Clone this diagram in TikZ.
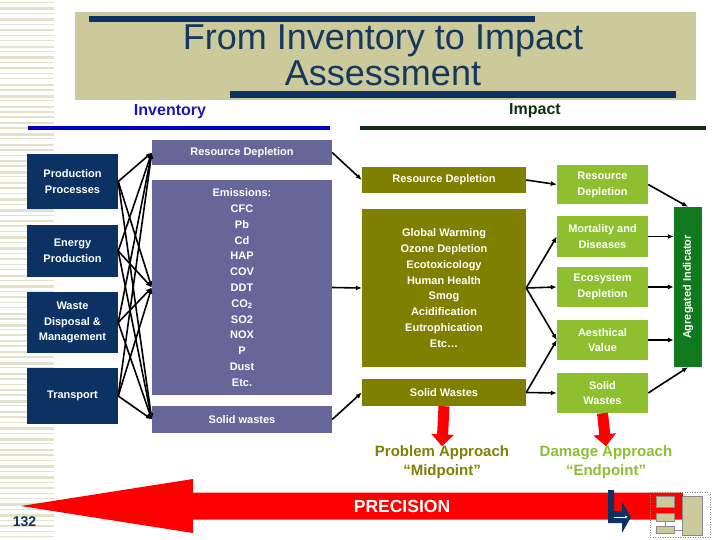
\documentclass[tikz,border=0pt]{standalone}
\usepackage{fontspec}
\setmainfont{Liberation Sans}
\usetikzlibrary{arrows.meta}
\definecolor{navy}{HTML}{0B3262}
\definecolor{purp}{HTML}{666699}
\definecolor{olivebox}{HTML}{808000}
\definecolor{lgreen}{HTML}{8DBF2E}
\definecolor{dgreen}{HTML}{127A1E}
\definecolor{beige}{HTML}{CCCA9A}
\definecolor{titleblue}{HTML}{14385E}
\definecolor{stripe}{HTML}{E3E0CB}
\definecolor{invblue}{HTML}{1A1AB0}
\definecolor{impgreen}{HTML}{10320F}
\definecolor{lineblue}{HTML}{0000CC}
\definecolor{dashgray}{HTML}{8A8A8A}
\begin{document}
\begin{tikzpicture}[x=1pt,y=-1pt,
  box/.style={inner sep=0pt, align=center, text=white,
    font=\fontsize{11}{15.8}\selectfont\bfseries},
  navybox/.style={box, fill=navy, minimum width=91pt},
  purpbox/.style={box, fill=purp, minimum width=180pt},
  olbox/.style={box, fill=olivebox, minimum width=164pt},
  lgbox/.style={box, fill=lgreen, minimum width=91pt},
  conn/.style={draw=black, line width=1.6pt, -{Latex[length=6pt,width=5pt]}},
  redconn/.style={draw=red, line width=11pt, -{Triangle[length=12pt,width=22pt]}},
  hdr/.style={inner sep=0pt, font=\fontsize{16}{18}\selectfont\bfseries},
  apprlabel/.style={inner sep=0pt, align=center, font=\fontsize{15}{19}\selectfont\bfseries},
  thumbbox/.style={fill=beige, draw=dashgray, line width=0.3pt}
]
\useasboundingbox (0,0) rectangle (720,540);
\fill[white] (0,0) rectangle (720,540);
% left margin stripes
\foreach \i in {0,...,98} {
  \pgfmathsetmacro\yy{2+\i*5.45}
  \pgfmathsetmacro\th{{1.2,2.4,1.4,3.0,1.0,2.0,1.6}[mod(\i,7)]}
  \fill[stripe] (0,\yy) rectangle (54,\yy+\th);
}
% title
\fill[beige] (75,12) rectangle (696,100);
\fill[navy] (89,16) rectangle (535,22);
\fill[navy] (230,91) rectangle (676,98);
\node[inner sep=0pt, align=center, text=titleblue,
  font=\fontsize{36}{36}\selectfont] (title) at (383,55) {From Inventory to Impact\\Assessment};
% headers
\node[hdr, text=invblue] (inv) at (170,112) {Inventory};
\node[hdr, text=impgreen] (imp) at (535,111) {Impact};
\fill[lineblue] (28,126) rectangle (330,130);
\fill[impgreen] (360,126) rectangle (706,130);
% left boxes
\node[navybox, minimum height=55pt] (pp) at (72.5,181.5) {Production\\Processes};
\node[navybox, minimum height=52pt] (ep) at (72.5,251) {Energy\\Production};
\node[navybox, minimum height=61pt] (wd) at (72.5,322.5) {Waste\\Disposal \&\\Management};
\node[navybox, minimum height=56pt] (tr) at (72.5,396) {Transport};
% purple boxes
\node[purpbox, minimum height=25pt] (rd1) at (242,152.5) {Resource Depletion};
\node[purpbox, minimum height=215pt] (em) at (242,287.5) {Emissions:\\CFC\\Pb\\Cd\\HAP\\COV\\DDT\\CO\textsubscript{2}\\SO2\\NOX\\P\\Dust\\Etc.};
\node[purpbox, minimum height=27pt] (sw1) at (242,419.5) {Solid wastes};
% olive boxes
\node[olbox, minimum height=26pt] (rd2) at (444,180) {Resource Depletion};
\node[olbox, minimum height=158pt] (gw) at (444,288) {Global Warming\\Ozone Depletion\\Ecotoxicology\\Human Health\\Smog\\Acidification\\Eutrophication\\Etc…};
\node[olbox, minimum height=27pt] (sw2) at (444,392.5) {Solid Wastes};
% light green boxes
\node[lgbox, minimum height=39pt] (rd3) at (602.5,184.5) {Resource\\Depletion};
\node[lgbox, minimum height=41pt] (mo) at (602.5,236.5) {Mortality and\\Diseases};
\node[lgbox, minimum height=40pt] (ec) at (602.5,287) {Ecosystem\\Depletion};
\node[lgbox, minimum height=40pt] (ae) at (602.5,340) {Aesthical\\Value};
\node[lgbox, minimum height=40pt] (sw3) at (602.5,393) {Solid\\Wastes};
% aggregated indicator
\node[fill=dgreen, inner sep=0pt, minimum width=28pt, minimum height=160pt] (ag) at (688,287) {};
\node[box, rotate=90] (agt) at (ag.center) {Agregated Indicator};
% connectors left -> middle
\foreach \s in {pp,ep,wd,tr} {
  \foreach \t in {rd1,em,sw1} {
    \draw[conn] (\s.east) -- (\t.west);
  }
}
\draw[conn] (rd1.east) -- (rd2.west);
\draw[conn] (em.east) -- (gw.west);
\draw[conn] (sw1.east) -- (sw2.west);
\draw[conn] (rd2.east) -- (rd3.west);
\draw[conn] (gw.east) -- (mo.west);
\draw[conn] (gw.east) -- (ec.west);
\draw[conn] (gw.east) -- (ae.west);
\draw[conn] (sw2.east) -- (ae.west);
\draw[conn] (sw2.east) -- (sw3.west);
\draw[conn] (rd3.east) -- (ag.north);
\draw[conn] (mo.east) -- (mo.east -| ag.west);
\draw[conn] (ec.east) -- (ec.east -| ag.west);
\draw[conn] (ae.east) -- (ae.east -| ag.west);
\draw[conn] (sw3.east) -- (ag.south);
% approach labels
\node[apprlabel, text=olivebox] (pa) at (442,462) {Problem Approach\\“Midpoint”};
\node[apprlabel, text=lgreen] (da) at (606,462) {Damage Approach\\“Endpoint”};
\draw[redconn] (sw2.south) -- ([yshift=-1pt]pa.north);
\draw[redconn] (sw3.south) -- ([yshift=-1pt]da.north);
% precision arrow
\fill[red] (21,506) -- (193,479) -- (193,492.5) -- (683,492.5) -- (683,519.5) -- (193,519.5) -- (193,533) -- cycle;
\node[inner sep=0pt, text=white, font=\fontsize{17.5}{20}\selectfont\bfseries] (prec) at (402,506) {PRECISION};
\node[inner sep=0pt, text=navy, font=\fontsize{14}{16}\selectfont\bfseries] (pg) at (24.5,522) {132};
% bent navy arrow
\fill[navy] (608,490) -- (614,490) -- (614,511) -- (622,511) -- (622,502) -- (631,517) -- (622,533) -- (622,523) -- (608,523) -- cycle;
\draw[white, line width=0.8pt, -{Latex[length=3pt,width=3pt]}] (614,517) -- (628,517);
% thumbnail
\draw[dashgray, dotted, line width=0.5pt] (650,492) rectangle (710,537);
\node[thumbbox, inner sep=0pt, minimum width=18pt, minimum height=11pt] (t1) at (665,501.5) {};
\node[thumbbox, inner sep=0pt, minimum width=18pt, minimum height=8pt] (t2) at (665,517) {};
\node[thumbbox, inner sep=0pt, minimum width=18pt, minimum height=7pt] (t3) at (665,530) {};
\node[thumbbox, inner sep=0pt, minimum width=20pt, minimum height=39pt] (t4) at (692,515.5) {};
\draw[dashgray, line width=0.3pt] (t2.south) -- (t3.north);
\draw[dashgray, line width=0.3pt] (t3.east) -- (t4.west |- t3.east);
\end{tikzpicture}
\end{document}
